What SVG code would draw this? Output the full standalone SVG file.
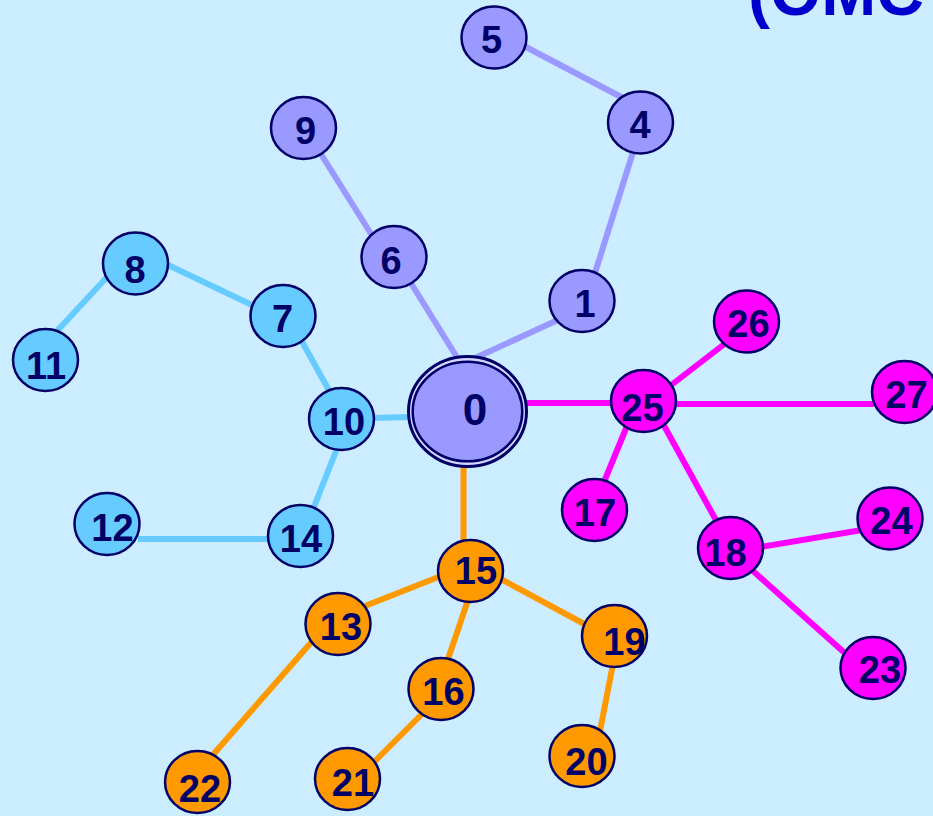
<svg xmlns="http://www.w3.org/2000/svg" width="933" height="816" viewBox="0 0 933 816">
<style>
.bg{fill:#CCECFF}
.title{font-family:"Liberation Sans",Arial,sans-serif;font-weight:bold;font-size:66px;fill:#0000CC}
.n ellipse{stroke:#000066;stroke-width:2.5}
.n text{font-family:"Liberation Sans",Arial,sans-serif;font-weight:bold;font-size:38px;fill:#000066;text-anchor:middle}
.lav ellipse{fill:#9999FF}
.cy ellipse{fill:#66CCFF}
.or ellipse{fill:#FF9900}
.mg ellipse{fill:#FF00FF}
#edges line{stroke-width:6;stroke-linecap:butt}
.el{stroke:#9999FF}
.ec{stroke:#66CCFF}
.eo{stroke:#FF9900}
.em{stroke:#FF00FF}
</style>
<rect class="bg" x="0" y="0" width="933" height="816"/>
<text class="title" x="748" y="15">(OMC</text>
<g id="edges">
<line class="el" x1="524" y1="46" x2="623" y2="98"/>
<line class="el" x1="634" y1="149" x2="594" y2="276"/>
<line class="el" x1="319" y1="151" x2="373" y2="237"/>
<line class="el" x1="409" y1="280" x2="458" y2="359"/>
<line class="el" x1="475" y1="358" x2="560" y2="319"/>
<line class="ec" x1="108" y1="276" x2="57" y2="331"/>
<line class="ec" x1="166" y1="264" x2="254" y2="306"/>
<line class="ec" x1="300" y1="338" x2="331" y2="394"/>
<line class="ec" x1="371" y1="418" x2="410" y2="417"/>
<line class="ec" x1="338" y1="446" x2="312" y2="512"/>
<line class="ec" x1="138" y1="539" x2="270" y2="539"/>
<line class="em" x1="526" y1="403" x2="613" y2="403"/>
<line class="em" x1="670" y1="386" x2="727" y2="342"/>
<line class="em" x1="674" y1="404" x2="874" y2="404"/>
<line class="em" x1="627" y1="426" x2="604" y2="482"/>
<line class="em" x1="662" y1="422" x2="717" y2="522"/>
<line class="em" x1="761" y1="547" x2="862" y2="530"/>
<line class="em" x1="753" y1="571" x2="847" y2="655"/>
<line class="eo" x1="463.5" y1="466" x2="463.5" y2="542"/>
<line class="eo" x1="441" y1="576" x2="365" y2="606"/>
<line class="eo" x1="499" y1="578" x2="588" y2="626"/>
<line class="eo" x1="468" y1="600" x2="447" y2="662"/>
<line class="eo" x1="423" y1="713" x2="373" y2="763"/>
<line class="eo" x1="613" y1="664" x2="600" y2="731"/>
<line class="eo" x1="315" y1="638" x2="211" y2="757"/>
</g>
<g id="node0" class="n">
<ellipse cx="467.5" cy="411.5" rx="59" ry="55" style="fill:#D4D4FF;stroke-width:3"/>
<ellipse cx="467.5" cy="411.5" rx="54.8" ry="49.8" style="fill:#9999FF"/>
<text x="475" y="425" style="font-size:44px">0</text>
</g>
<g id="node1" class="n lav"><ellipse cx="582" cy="301" rx="32.5" ry="31"/><text x="585" y="317">1</text></g>
<g id="node4" class="n lav"><ellipse cx="640.5" cy="122.5" rx="32.5" ry="31"/><text x="640" y="138">4</text></g>
<g id="node5" class="n lav"><ellipse cx="494" cy="37.5" rx="32.5" ry="31"/><text x="491.5" y="53">5</text></g>
<g id="node6" class="n lav"><ellipse cx="394" cy="257" rx="32.5" ry="31"/><text x="391" y="274">6</text></g>
<g id="node9" class="n lav"><ellipse cx="303.5" cy="128" rx="32.5" ry="31"/><text x="305.5" y="144">9</text></g>
<g id="node7" class="n cy"><ellipse cx="283" cy="316" rx="32.5" ry="31"/><text x="282.5" y="332">7</text></g>
<g id="node8" class="n cy"><ellipse cx="135.5" cy="263.5" rx="32.5" ry="31"/><text x="135" y="283">8</text></g>
<g id="node10" class="n cy"><ellipse cx="341.5" cy="419" rx="32.5" ry="31"/><text x="344" y="435">10</text></g>
<g id="node11" class="n cy"><ellipse cx="45.5" cy="360" rx="32.5" ry="31"/><text x="46" y="379">11</text></g>
<g id="node12" class="n cy"><ellipse cx="107" cy="524" rx="32.5" ry="31"/><text x="112.5" y="541">12</text></g>
<g id="node14" class="n cy"><ellipse cx="300.5" cy="536" rx="32.5" ry="31"/><text x="301" y="552">14</text></g>
<g id="node15" class="n or"><ellipse cx="470.5" cy="571" rx="32.5" ry="31"/><text x="476" y="584">15</text></g>
<g id="node13" class="n or"><ellipse cx="338" cy="624" rx="32.5" ry="31"/><text x="341" y="640">13</text></g>
<g id="node16" class="n or"><ellipse cx="441" cy="689" rx="32.5" ry="31"/><text x="443.5" y="705">16</text></g>
<g id="node19" class="n or"><ellipse cx="614.5" cy="636" rx="32.5" ry="31"/><text x="624.5" y="655">19</text></g>
<g id="node20" class="n or"><ellipse cx="582" cy="756" rx="32.5" ry="31"/><text x="586.5" y="775">20</text></g>
<g id="node21" class="n or"><ellipse cx="347.5" cy="779" rx="32.5" ry="31"/><text x="353" y="796">21</text></g>
<g id="node22" class="n or"><ellipse cx="197.5" cy="782" rx="32.5" ry="31"/><text x="200" y="802">22</text></g>
<g id="node25" class="n mg"><ellipse cx="643.5" cy="401" rx="32.5" ry="31"/><text x="642.5" y="421">25</text></g>
<g id="node26" class="n mg"><ellipse cx="746.5" cy="321.5" rx="32.5" ry="31"/><text x="748.5" y="337">26</text></g>
<g id="node27" class="n mg"><ellipse cx="904.5" cy="392" rx="32.5" ry="31"/><text x="906.5" y="408">27</text></g>
<g id="node17" class="n mg"><ellipse cx="594.5" cy="510" rx="32.5" ry="31"/><text x="595" y="526">17</text></g>
<g id="node18" class="n mg"><ellipse cx="730.5" cy="548" rx="32.5" ry="31"/><text x="725.5" y="566">18</text></g>
<g id="node24" class="n mg"><ellipse cx="890" cy="518.5" rx="32.5" ry="31"/><text x="891.5" y="534">24</text></g>
<g id="node23" class="n mg"><ellipse cx="873" cy="668" rx="32.5" ry="31"/><text x="880" y="683">23</text></g>
</svg>
